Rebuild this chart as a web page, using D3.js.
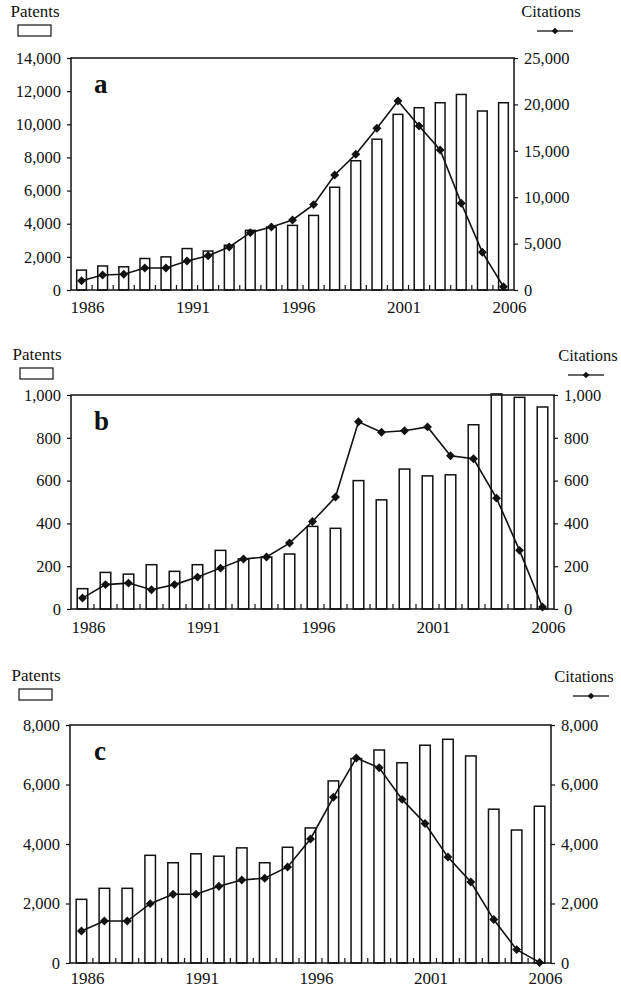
<!DOCTYPE html>
<html>
<head>
<meta charset="utf-8">
<script src="https://cdn.jsdelivr.net/npm/d3@7"></script>
<style>
  body { margin: 0; background: #fff; }
  svg text { font-family: 'Liberation Serif', 'Times New Roman', Times, serif !important; fill: #111; }
</style>
</head>
<body>
<div id="chart"></div>
<script>
const years = [1986, 1987, 1988, 1989, 1990, 1991, 1992, 1993, 1994, 1995, 1996,
  1997, 1998, 1999, 2000, 2001, 2002, 2003, 2004, 2005, 2006];
const yearLabels = [1986, 1991, 1996, 2001, 2006];

const patentsA = [1200, 1450, 1400, 1900, 2000, 2500, 2350, 2700, 3600, 3800, 3900,
  4500, 6200, 7800, 9100, 10600, 11000, 11300, 11800, 10800, 11300];
const citationsA = [1000, 1620, 1690, 2370, 2370, 3130, 3700, 4640, 6180, 6790, 7550,
  9200, 12400, 14630, 17430, 20370, 17680, 15090, 9350, 4060, 360];

const patentsB = [95, 171, 163, 207, 176, 207, 274, 234, 243, 257, 386,
  377, 600, 510, 654, 622, 627, 861, 1005, 989, 944];
const citationsB = [51, 114, 121, 90, 114, 149, 191, 234, 243, 308, 409,
  523, 875, 826, 833, 851, 716, 702, 518, 274, 9];

const patentsC = [2140, 2510, 2510, 3620, 3370, 3670, 3590, 3870, 3370, 3890, 4540,
  6120, 6870, 7160, 6730, 7320, 7520, 6960, 5170, 4470, 5270];
const citationsC = [1075, 1410, 1410, 1995, 2310, 2310, 2580, 2790, 2850, 3230, 4170,
  5570, 6890, 6560, 5500, 4690, 3560, 2720, 1460, 450, 20];

const ticksA = { left: [0, 2000, 4000, 6000, 8000, 10000, 12000, 14000], right: [0, 5000, 10000, 15000, 20000, 25000] };
const ticksB = { left: [0, 200, 400, 600, 800, 1000], right: [0, 200, 400, 600, 800, 1000] };
const ticksC = { left: [0, 2000, 4000, 6000, 8000], right: [0, 2000, 4000, 6000, 8000] };

const serif = "'Liberation Serif', 'Times New Roman', Times, serif";

const svg = d3.select("#chart")
  .append("svg")
  .attr("width", 621)
  .attr("height", 989)
  .style("font-family", serif);

const fmt = d3.format(",");

function drawPanel(p) {
  const g = svg.append("g");

  const x = d3.scaleBand()
    .domain(years)
    .range([p.left, p.right]);

  const yL = d3.scaleLinear()
    .domain([0, p.ticks.left[p.ticks.left.length - 1]])
    .range([p.bottom, p.top]);

  const yR = d3.scaleLinear()
    .domain([0, p.ticks.right[p.ticks.right.length - 1]])
    .range([p.bottom, p.top]);

  // bars
  const bw = x.bandwidth() * 0.46;
  g.selectAll(".bar")
    .data(p.patents)
    .enter()
    .append("rect")
    .attr("x", (d, i) => x(years[i]) + (x.bandwidth() - bw) / 2)
    .attr("y", d => yL(d))
    .attr("width", bw)
    .attr("height", d => p.bottom - yL(d))
    .attr("fill", "#fff")
    .attr("stroke", "#111")
    .attr("stroke-width", 1.5);

  // frame
  g.append("rect")
    .attr("x", p.left)
    .attr("y", p.top)
    .attr("width", p.right - p.left)
    .attr("height", p.bottom - p.top)
    .attr("fill", "none")
    .attr("stroke", "#111")
    .attr("stroke-width", 1.5);

  // inner ticks between categories
  g.selectAll(".xtick")
    .data(years.slice(1))
    .enter()
    .append("line")
    .attr("x1", d => x(d))
    .attr("x2", d => x(d))
    .attr("y1", p.bottom)
    .attr("y2", p.bottom - 5)
    .attr("stroke", "#111")
    .attr("stroke-width", 1.2);

  // left axis
  const ax = g.append("g")
    .attr("transform", "translate(" + p.left + ",0)")
    .call(d3.axisLeft(yL).tickValues(p.ticks.left).tickFormat(fmt).tickSize(4).tickPadding(6));
  ax.select(".domain").remove();

  // right axis
  const ar = g.append("g")
    .attr("transform", "translate(" + p.right + ",0)")
    .call(d3.axisRight(yR).tickValues(p.ticks.right).tickFormat(fmt).tickSize(4).tickPadding(6));
  ar.select(".domain").remove();

  ax.attr("font-family", null);
  ar.attr("font-family", null);
  g.selectAll(".tick line").attr("stroke", "#111").attr("stroke-width", 1.2);
  g.selectAll(".tick text")
    .attr("font-size", 16.5)
    .style("font-family", serif)
    .attr("fill", "#111");

  // year labels
  g.selectAll(".yr")
    .data(yearLabels)
    .enter()
    .append("text")
    .attr("x", d => x(d) + x.bandwidth() / 2 + 6)
    .attr("y", p.bottom + p.yearDy)
    .attr("text-anchor", "middle")
    .attr("font-size", 17)
    .text(d => d);

  // citations line
  const line = d3.line()
    .x((d, i) => x(years[i]) + x.bandwidth() / 2)
    .y(d => yR(d));

  g.append("path")
    .datum(p.citations)
    .attr("fill", "none")
    .attr("stroke", "#111")
    .attr("stroke-width", 1.6)
    .attr("d", line);

  const diamond = d3.symbol().type(d3.symbolSquare).size(40);
  g.selectAll(".dot")
    .data(p.citations)
    .enter()
    .append("path")
    .attr("d", diamond)
    .attr("fill", "#111")
    .attr("transform", (d, i) => "translate(" + (x(years[i]) + x.bandwidth() / 2) + "," + yR(d) + ") rotate(45)");

  // panel letter
  g.append("text")
    .attr("x", 94)
    .attr("y", p.top + 35)
    .attr("font-size", 27)
    .attr("font-weight", "bold")
    .text(p.label);

  // legend
  g.append("text")
    .attr("x", p.legL.x)
    .attr("y", p.legL.y)
    .attr("text-anchor", "middle")
    .attr("font-size", 17)
    .text("Patents");
  g.append("rect")
    .attr("x", p.legL.x - 17)
    .attr("y", p.legL.y + 8)
    .attr("width", 33)
    .attr("height", 11)
    .attr("fill", "#fff")
    .attr("stroke", "#111")
    .attr("stroke-width", 1.2);

  g.append("text")
    .attr("x", p.legR.x)
    .attr("y", p.legR.y)
    .attr("text-anchor", "middle")
    .attr("font-size", 16.5)
    .text("Citations");
  g.append("line")
    .attr("x1", p.legR.sx - 18)
    .attr("x2", p.legR.sx + 18)
    .attr("y1", p.legR.y + 14)
    .attr("y2", p.legR.y + 14)
    .attr("stroke", "#333")
    .attr("stroke-width", 1.6);
  g.append("path")
    .attr("d", d3.symbol().type(d3.symbolSquare).size(22))
    .attr("fill", "#111")
    .attr("transform", "translate(" + p.legR.sx + "," + (p.legR.y + 14) + ") rotate(45)");
}

drawPanel({
  label: "a", patents: patentsA, citations: citationsA, ticks: ticksA,
  left: 71, right: 514, top: 58, bottom: 290, yearDy: 23,
  legL: { x: 35, y: 17 }, legR: { x: 551, y: 17, sx: 555 }
});

drawPanel({
  label: "b", patents: patentsB, citations: citationsB, ticks: ticksB,
  left: 71, right: 554, top: 395, bottom: 609, yearDy: 24,
  legL: { x: 37, y: 360 }, legR: { x: 588, y: 361, sx: 586 }
});

drawPanel({
  label: "c", patents: patentsC, citations: citationsC, ticks: ticksC,
  left: 70, right: 551, top: 725, bottom: 963, yearDy: 21,
  legL: { x: 36, y: 681 }, legR: { x: 584, y: 682, sx: 591 }
});
</script>
</body>
</html>
